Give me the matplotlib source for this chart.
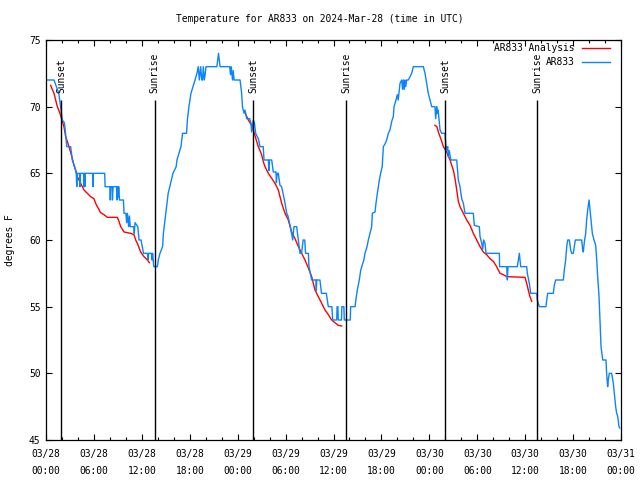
import numpy as np
import matplotlib
matplotlib.use('Agg')
import matplotlib.pyplot as plt
import matplotlib.dates as mdates
from matplotlib.lines import Line2D

# observed temperature (hours after 2024-03-28 00:00 UTC, degrees F)
obs_hours = [0.0, 1.0, 1.3, 1.6, 1.9, 2.04, 2.3, 2.45, 2.6, 3.09, 3.29, 3.59, 3.79, 3.85, 3.92,
             4.2, 4.26, 4.32, 4.7, 4.76, 4.82, 4.86, 4.9, 4.95, 5.85, 5.89, 5.93, 7.35, 7.4,
             8.0, 8.05, 8.1, 8.28, 8.32, 8.4, 8.83, 8.87, 8.92, 9.0, 9.05, 9.1, 9.2, 9.7, 9.77,
             10.0, 10.1, 10.2, 10.35, 10.45, 10.55, 11.0, 11.05, 11.15, 11.5, 11.65, 11.9,
             12.06, 12.2, 12.7, 12.77, 12.85, 13.2, 13.27, 13.35, 13.5, 13.94,
             14.06, 14.27, 14.6, 14.7, 14.9, 15.1, 15.3, 15.5, 15.9, 16.3, 16.4, 16.9, 17.1,
             17.6, 17.7, 17.9, 18.15, 18.66, 18.9, 19.07, 19.2, 19.37, 19.5, 19.6, 19.7, 19.82,
             19.95, 20.04, 21.4, 21.6, 21.8, 23.0, 23.1, 23.2, 23.35, 23.45, 23.55, 24.3, 24.5,
             24.6, 24.8, 24.92, 25.13, 25.5, 25.67, 25.75, 25.96, 26.1, 26.25, 26.59, 26.8,
             27.2, 27.3, 27.85, 27.9, 27.95, 28.26, 28.46, 28.8, 28.85, 28.95, 29.09, 29.3,
             29.5, 29.72, 29.93, 30.14, 30.3, 30.55, 30.75, 30.89, 31.05, 31.39, 31.6, 31.8,
             32.0, 32.2, 32.4, 32.5, 32.85, 32.93, 33.27, 33.8, 33.85, 33.9, 34.3, 34.5, 35.1,
             35.35, 35.8, 35.9, 36.4, 36.45, 36.55, 36.6, 37.0, 37.05, 37.3, 37.35, 38.1,
             38.15, 38.7, 38.8, 38.98, 39.23, 39.4, 39.53, 39.8, 39.94, 40.2, 40.36, 40.57,
             40.78, 40.86, 41.2, 41.32, 41.49, 41.74, 41.9, 42.1, 42.24, 42.45, 42.66, 42.86,
             43.07, 43.29, 43.49, 43.58, 43.83, 43.99, 44.1, 44.33, 44.54, 44.65, 44.75,
             44.85, 44.95, 45.05, 45.15, 45.37, 45.58, 45.79, 45.99, 47.25, 47.46, 47.67,
             47.87, 48.08, 48.3, 48.7, 48.8, 48.92, 49.0, 49.1, 49.34, 49.55, 49.96, 50.05,
             50.17, 50.3, 50.38, 50.5, 50.68, 51.43, 51.63, 51.84, 52.05, 52.26, 52.47, 53.51,
             53.63, 54.26, 54.35, 54.56, 54.68, 54.8, 54.97, 55.1, 56.77, 56.8, 57.69, 57.77,
             57.85, 59.02, 59.14, 59.27, 59.44, 60.19, 60.27, 60.52, 60.69, 61.45, 61.52,
             61.77, 62.6, 62.7, 62.82, 63.52, 63.65, 63.82, 64.78, 64.9, 65.07, 65.2, 65.33,
             65.53, 65.7, 65.83, 66.03, 66.15, 66.28, 67.08, 67.2, 67.28, 67.4, 67.58, 67.7,
             67.83, 68.0, 68.12, 68.25, 68.41, 68.62, 68.83, 68.96, 69.08, 69.25, 69.37, 69.5,
             69.71, 70.12, 70.2, 70.33, 70.41, 70.53, 70.83, 71.04, 71.16, 71.33, 71.46,
             71.58, 71.75, 71.84]
obs_temp = [72, 72, 71.5, 71, 69.7, 69, 68.8, 68, 67, 67, 66, 65.5, 65, 64, 65,
            65, 64, 65, 65, 64, 65, 64, 65, 65, 65, 64, 65, 65, 64,
            64, 63, 64, 64, 63, 64, 64, 63, 64, 64, 63.2, 64, 63, 63, 62,
            62, 61.3, 62, 61, 61.8, 61, 61, 60.5, 61.3, 61, 60, 60,
            59.5, 59, 59, 58.5, 59, 59, 58.5, 59, 58, 58,
            58.5, 59, 59.5, 60.5, 61.5, 62.5, 63.5, 64, 65, 65.5, 66, 67, 68,
            68, 69, 70, 71, 72, 72.5, 73, 72, 73, 72, 72, 73, 72,
            72.5, 73, 73, 74, 73, 73, 72.4, 73, 72, 72.7, 72, 72, 71,
            70, 69.5, 69.75, 69.1, 69.1, 68.75, 68.1, 69, 68.8, 68, 67.6, 67,
            67, 66, 66, 65.2, 66, 66, 65.1, 65.1, 64.3, 65, 65, 64.1,
            64, 63.4, 62.75, 62, 61.8, 61.1, 60.5, 60, 61, 61, 60, 59,
            59, 60, 60, 59, 59, 58, 57, 57, 56.2, 57, 57, 56, 56,
            55, 55, 54, 54, 55, 55, 54, 54, 55, 55, 54, 54,
            55, 55, 55.5, 56.25, 57, 57.7, 58, 58.5, 59, 59.5, 60, 60.5,
            61, 62, 62.1, 62.75, 63.5, 64.5, 65, 65.5, 67, 67.2, 67.5, 68,
            68.25, 68.9, 69.25, 70, 70.5, 70.9, 70.5, 71.75, 72, 71.3, 72,
            71.3, 72, 71.5, 72, 72, 72.25, 72.5, 73, 73, 72.5, 71.75,
            71, 70.5, 70, 70, 69.1, 70, 69.5, 69.75, 68.25, 68, 68, 67.25,
            66.75, 67, 66.25, 66.7, 66, 66, 64.5, 64, 63.1, 62.75, 62, 62,
            61.1, 61, 60.25, 59.75, 59.3, 60, 59.75, 59, 59, 58, 58, 57,
            58, 58, 58.5, 59, 58, 58, 57.5, 56.75, 56, 56, 55.5,
            55, 55, 55.5, 56, 56, 56.6, 57, 57, 57.75, 58.5, 59.5, 60,
            60, 59.25, 59, 59, 59.5, 60, 60, 59.25, 59.1, 59.8, 60.5, 61.5,
            62.25, 63, 62.25, 61.5, 60.5, 60, 59.6, 58.5, 57.25, 55.75, 54, 52,
            51, 51, 50, 49, 49.5, 50, 50, 49.25, 48.5, 47.5, 47,
            46.8, 46, 45.9]

# analysis series (nan = gap between nightly runs)
ana_hours = [0.58, 1.0, 1.42, 1.75, 2.04, 2.25, 2.46, 2.67, 3.0, 3.3, 3.5, 3.71, 3.92, 4.34,
             4.76, 5.18, 5.59, 6.0, 6.22, 6.43, 6.84, 7.26, 7.68, 8.93, 9.14, 9.35, 9.77,
             10.6, 11.02, 11.23, 11.44, 11.85, 12.27, 12.69, 12.95, 19.0,
             25.0, 25.33, 25.75, 25.96, 26.38, 26.59, 27.0, 27.2, 27.42, 27.84, 28.68, 29.09,
             29.3, 29.51, 29.93, 30.34, 30.76, 31.18, 31.6, 32.43, 32.85, 33.27, 33.68, 34.1,
             34.52, 34.94, 35.35, 35.77, 36.6, 37.02, 43.0,
             48.7, 48.95, 49.13, 49.34, 49.55, 49.76, 50.17, 50.59, 51.0, 51.22, 51.43, 51.63,
             51.84, 52.26, 52.68, 53.1, 53.51, 53.93, 54.35, 54.76, 55.18, 55.6, 56.01, 56.43,
             56.85, 57.26, 57.69, 59.98, 60.19, 60.39, 60.6, 60.82]
ana_temp = [71.6, 71, 70, 69.5, 68.9, 68.5, 67.75, 67.4, 66.75, 66.1, 65.6, 65.25, 64.75, 64.25,
            63.75, 63.5, 63.25, 63.1, 62.75, 62.5, 62.05, 61.9, 61.7, 61.7, 61.4, 61, 60.6,
            60.5, 60.4, 60, 59.75, 59.1, 58.75, 58.5, 58.3, np.nan,
            69.45, 69, 68.6, 68.25, 67.4, 67, 66.4, 65.9, 65.5, 65, 64.25, 63.75,
            63.25, 62.75, 62, 61.5, 60.6, 60.1, 59.5, 58.5, 57.9, 57.25, 56.25, 55.75,
            55.25, 54.75, 54.4, 54, 53.6, 53.55, np.nan,
            68.6, 68.5, 68.1, 67.75, 67.4, 67, 66.6, 66, 65.25, 64.6, 63.75, 62.9,
            62.5, 62, 61.5, 61.1, 60.5, 60, 59.5, 59.1, 58.9, 58.6, 58.4, 58,
            57.5, 57.4, 57.25, 57.2, 56.75, 56.25, 55.75, 55.4]

sun_hours = [1.93, 13.6, 25.96, 37.6, 50.0, 61.54]
sun_labels = ['Sunset', 'Sunrise', 'Sunset', 'Sunrise', 'Sunset', 'Sunrise']

base = np.datetime64('2024-03-28T00:00')


def to_time(h):
    return base + (np.array(h) * 3600).astype('timedelta64[s]')


FONT = 'DejaVu Sans Mono'
FS = 6.9
plt.rcParams['font.family'] = FONT
plt.rcParams['font.size'] = FS

fig = plt.figure(figsize=(6.4, 4.8), dpi=100)
ax = fig.add_axes([46 / 640, 40 / 480, 575 / 640, 400 / 480])

ax.plot(to_time(ana_hours), ana_temp, color='#ff0000', lw=1.0)
ax.plot(to_time(obs_hours), obs_temp, color='#0a84ff', lw=1.0)

for h, lab in zip(sun_hours, sun_labels):
    t = to_time(h)
    ax.vlines(t, 45, 70.5, color='black', lw=1.0)
    ax.text(t, 71.0, lab, rotation=90, ha='center', va='bottom', fontsize=FS)

ax.set_xlim(to_time(0), to_time(72))
ax.set_ylim(45, 75)
ax.set_yticks([45, 50, 55, 60, 65, 70, 75])

ax.xaxis.set_major_locator(mdates.HourLocator(byhour=[0, 6, 12, 18]))
ax.xaxis.set_minor_locator(mdates.HourLocator(interval=2))
ax.xaxis.set_major_formatter(mdates.DateFormatter('%m/%d\n%H:%M'))
for lbl in ax.get_xticklabels():
    lbl.set_linespacing(1.85)

ax.tick_params(which='both', direction='in', top=True, right=True, labelsize=FS, width=0.8)
ax.tick_params(which='major', length=4)
ax.tick_params(which='minor', length=2.2)
ax.tick_params(axis='x', pad=6.5)
ax.tick_params(axis='y', pad=4)
for s in ax.spines.values():
    s.set_linewidth(0.9)

# legend, gnuplot style (text right-aligned before the sample line)
leg_items = [('AR833 Analysis', '#ff0000'), ('AR833', '#0a84ff')]
for i, (name, col) in enumerate(leg_items):
    yy = 0.98 - i * 0.035
    ax.text(0.92, yy, name, transform=ax.transAxes, ha='right', va='center', fontsize=FS)
    ax.add_line(Line2D([0.932, 0.981], [yy, yy], transform=ax.transAxes, color=col, lw=1.0))

fig.text(0.5, 1 - 19 / 480, 'Temperature for AR833 on 2024-Mar-28 (time in UTC)',
         ha='center', va='center', fontsize=FS)
fig.text(10 / 640, 0.5, 'degrees F', rotation=90, ha='center', va='center', fontsize=FS)

fig.savefig('out.png', dpi=100)
